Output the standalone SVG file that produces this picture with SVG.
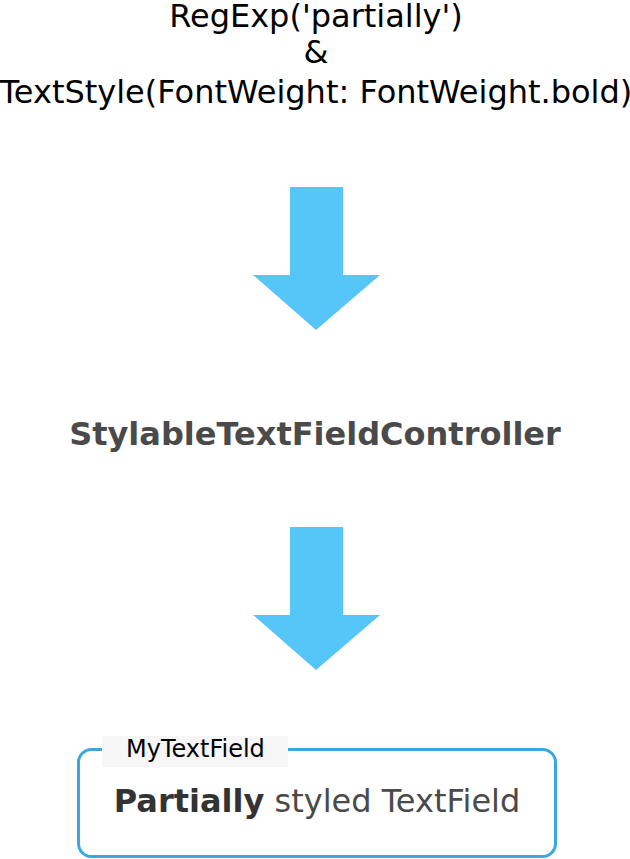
<svg xmlns="http://www.w3.org/2000/svg" width="630" height="859" viewBox="0 0 630 859">
<style>
text{font-family:"DejaVu Sans","Liberation Sans",sans-serif}
.top{font-size:32px;fill:#000;text-anchor:middle}
.arrow{fill:#56c5f7}
</style>
<rect width="630" height="859" fill="#fff"/>
<g id="input">
<text class="top" x="316" y="27">RegExp('partially')</text>
<text class="top" x="316" y="63">&amp;</text>
<text class="top" x="316" y="103">TextStyle(FontWeight: FontWeight.bold)</text>
</g>
<g id="connectors">
<polygon class="arrow" points="290,187 343,187 343,275 380,275 316,330 253,275 290,275"/>
<polygon class="arrow" points="290,527 343,527 343,615 380,615 316,670 253,615 290,615"/>
</g>
<g id="controller">
<text x="315" y="445" font-size="32" font-weight="bold" fill="#4a4a4a" text-anchor="middle">StylableTextFieldController</text>
</g>
<g id="textfield">
<rect x="78.5" y="749.5" width="477" height="107" rx="13" fill="#fff" stroke="#3aa8e0" stroke-width="3"/>
<rect x="102" y="736" width="186" height="31" fill="#f6f6f6"/>
<text x="126" y="757" font-size="24" fill="#000">MyTextField</text>
<text x="317" y="812" font-size="32" fill="#4a4a4a" text-anchor="middle"><tspan font-weight="bold" fill="#333">Partially</tspan> styled TextField</text>
</g>
</svg>
